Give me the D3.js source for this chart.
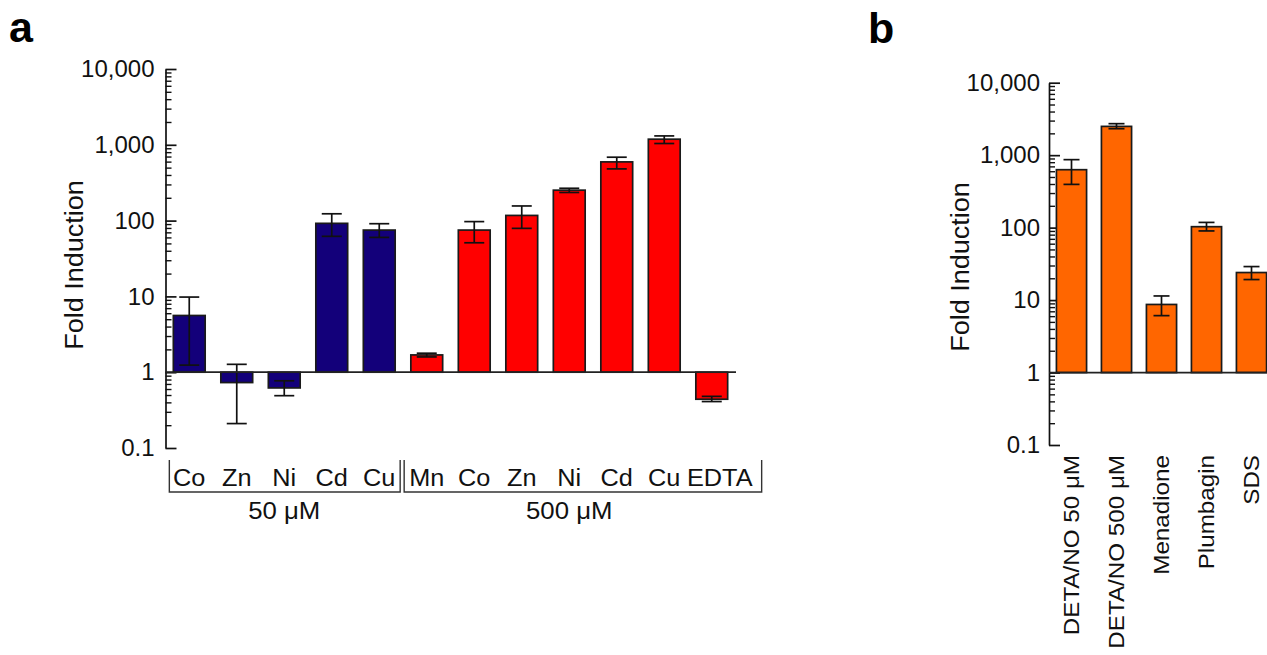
<!DOCTYPE html>
<html>
<head>
<meta charset="utf-8">
<script src="https://cdn.jsdelivr.net/npm/d3@7/dist/d3.min.js"></script>
<style>
body { margin: 0; background: #fff; }
svg { font-family: "Liberation Sans", Arial, sans-serif; }
</style>
</head>
<body>
<svg class="chart" width="1267" height="655"></svg>
<script>
// panel a - metals, two doses
var metalNames = ["Co", "Zn", "Ni", "Cd", "Cu", "Mn", "Co", "Zn", "Ni", "Cd", "Cu", "EDTA"];
var metalFold = [5.6, 0.73, 0.62, 92, 75, 1.69, 75, 117, 252, 595, 1186, 0.44];
var metalLow  = [1.24, 0.21, 0.49, 62, 60, 1.59, 51, 79, 235, 481, 1040, 0.41];
var metalHigh = [9.8, 1.27, 0.77, 123, 91, 1.78, 97, 156, 267, 686, 1310, 0.48];
var metalGroup = [0, 0, 0, 0, 0, 1, 1, 1, 1, 1, 1, 1];
var doseLabels = ["50 \u03bcM", "500 \u03bcM"];

// panel b - NO / oxidative stress
var stressNames = ["DETA/NO 50 \u03bcM", "DETA/NO 500 \u03bcM", "Menadione", "Plumbagin", "SDS"];
var stressFold = [630, 2495, 8.7, 103, 24];
var stressLow  = [395, 2320, 6.1, 90, 19.2];
var stressHigh = [867, 2720, 11.4, 118, 29];

var tickValues = [0.1, 1, 10, 100, 1000, 10000];
var tickLabels = ["0.1", "1", "10", "100", "1,000", "10,000"];

var svg = d3.select(".chart");

function stretch(sel, k) {
	sel.each(function() {
		var w = this.getComputedTextLength();
		this.setAttribute("textLength", w * k);
		this.setAttribute("lengthAdjust", "spacingAndGlyphs");
	});
}

function drawPanel(o) {
	var g = svg.append("g");
	var x = d3.scaleBand()
		.domain(d3.range(o.fold.length))
		.range(o.xr)
		.paddingInner(0.33)
		.paddingOuter(0.165);
	var y = d3.scaleLog().domain([0.1, 10000]).range(o.yr);
	var bw = x.bandwidth();

	// minor ticks
	var minor = y.ticks().filter(function(d) {
		return Math.abs(Math.log10(d) - Math.round(Math.log10(d))) > 1e-6;
	});
	var minorAxis = g.append("g")
		.attr("transform", "translate(" + o.xr[0] + ",0)")
		.call(d3.axisLeft(y).tickValues(minor).tickSize(-6).tickFormat(""));
	minorAxis.select(".domain").remove();
	minorAxis.selectAll("line").attr("stroke", "#111").attr("stroke-width", 1.4);

	var axis = g.append("g")
		.attr("transform", "translate(" + o.xr[0] + ",0)")
		.call(d3.axisLeft(y)
			.tickValues(tickValues)
			.tickFormat(function(d, i) { return tickLabels[i]; })
			.tickSizeInner(-11)
			.tickSizeOuter(0)
			.tickPadding(o.pad));
	axis.select(".domain").attr("stroke", "#111").attr("stroke-width", 1.7);
	axis.selectAll("line").attr("stroke", "#111").attr("stroke-width", 1.7);
	axis.selectAll("text")
		.attr("font-size", 24)
		.attr("fill", "#111")
		.attr("font-family", "'Liberation Sans', Arial, sans-serif");

	// bars
	g.selectAll("rect.bar")
		.data(o.fold)
		.enter()
		.append("rect")
		.attr("class", "bar")
		.attr("x", function(d, i) { return x(i); })
		.attr("width", bw)
		.attr("y", function(d) { return Math.min(y(d), y(1)); })
		.attr("height", function(d) { return Math.abs(y(d) - y(1)); })
		.attr("fill", function(d, i) { return o.color(i); })
		.attr("stroke", "#1a1a1a")
		.attr("stroke-width", 1.7);

	// error bars
	var err = g.selectAll("g.err")
		.data(o.fold)
		.enter()
		.append("g")
		.attr("class", "err")
		.attr("stroke", "#111")
		.attr("stroke-width", 1.7);
	err.append("line")
		.attr("x1", function(d, i) { return x(i) + bw / 2; })
		.attr("x2", function(d, i) { return x(i) + bw / 2; })
		.attr("y1", function(d, i) { return y(o.low[i]); })
		.attr("y2", function(d, i) { return y(o.high[i]); });
	[o.low, o.high].forEach(function(arr) {
		err.append("line")
			.attr("x1", function(d, i) { return x(i) + bw / 2 - o.cap / 2; })
			.attr("x2", function(d, i) { return x(i) + bw / 2 + o.cap / 2; })
			.attr("y1", function(d, i) { return y(arr[i]); })
			.attr("y2", function(d, i) { return y(arr[i]); });
	});

	// baseline at 1
	g.append("line")
		.attr("x1", o.xr[0])
		.attr("x2", o.baseEnd)
		.attr("y1", y(1))
		.attr("y2", y(1))
		.attr("stroke", "#222")
		.attr("stroke-width", 1.7);

	// y label
	var yl = g.append("text")
		.attr("transform", "translate(" + o.ylabX + "," + o.ylabY + ") rotate(-90)")
		.attr("text-anchor", "middle")
		.attr("font-size", 25)
		.attr("fill", "#111")
		.text("Fold  Induction");
	stretch(yl, 1.08);

	return { g: g, x: x, y: y, bw: bw };
}

// ---- panel a ----
var pa = drawPanel({
	fold: metalFold, low: metalLow, high: metalHigh,
	xr: [165.5, 735.5], yr: [448, 69], baseEnd: 736, cap: 20, pad: 11,
	ylabX: 83, ylabY: 265,
	color: function(i) { return metalGroup[i] === 0 ? "#13007a" : "#ff0000"; }
});

var cats = pa.g.selectAll("text.cat")
	.data(metalNames)
	.enter()
	.append("text")
	.attr("class", "cat")
	.attr("x", function(d, i) { return pa.x(i) + pa.bw / 2 + (d === "EDTA" ? 8 : 0); })
	.attr("y", 486)
	.attr("text-anchor", "middle")
	.attr("font-size", 23)
	.attr("fill", "#111")
	.text(function(d) { return d; });
stretch(cats, 1.1);

// dose brackets
var groups = [
	{ from: 0, to: 4, left: pa.x(0) - 4, right: pa.x(4) + pa.bw + 5 },
	{ from: 5, to: 11, left: pa.x(4) + pa.bw + 9, right: pa.x(11) + pa.bw + 34 }
];
groups.forEach(function(gr, k) {
	pa.g.append("path")
		.attr("d", "M" + gr.left + ",460V492H" + gr.right + "V460")
		.attr("fill", "none")
		.attr("stroke", "#333")
		.attr("stroke-width", 1.4);
	var cx = (pa.x(gr.from) + pa.x(gr.to) + pa.bw) / 2;
	var t = pa.g.append("text")
		.attr("x", cx)
		.attr("y", 519)
		.attr("text-anchor", "middle")
		.attr("font-size", 23)
		.attr("fill", "#111")
		.text(doseLabels[k]);
	stretch(t, 1.12);
});

// ---- panel b ----
var pb = drawPanel({
	fold: stressFold, low: stressLow, high: stressHigh,
	xr: [1049, 1274], yr: [445, 82.7], baseEnd: 1267, cap: 16, pad: 9,
	ylabX: 969, ylabY: 267,
	color: function() { return "#ff6600"; }
});

var scats = pb.g.selectAll("text.cat")
	.data(stressNames)
	.enter()
	.append("text")
	.attr("class", "cat")
	.attr("transform", function(d, i) {
		return "translate(" + (pb.x(i) + pb.bw / 2) + ",455) rotate(-90)";
	})
	.attr("dy", "0.36em")
	.attr("text-anchor", "end")
	.attr("font-size", 22)
	.attr("fill", "#111")
	.text(function(d) { return d; });
stretch(scats, 1.1);

// panel letters
svg.append("text").attr("x", 9).attr("y", 42)
	.attr("font-size", 43).attr("font-weight", "bold").attr("fill", "#000").text("a");
svg.append("text").attr("x", 868).attr("y", 43)
	.attr("font-size", 43).attr("font-weight", "bold").attr("fill", "#000").text("b");
</script>
</body>
</html>
